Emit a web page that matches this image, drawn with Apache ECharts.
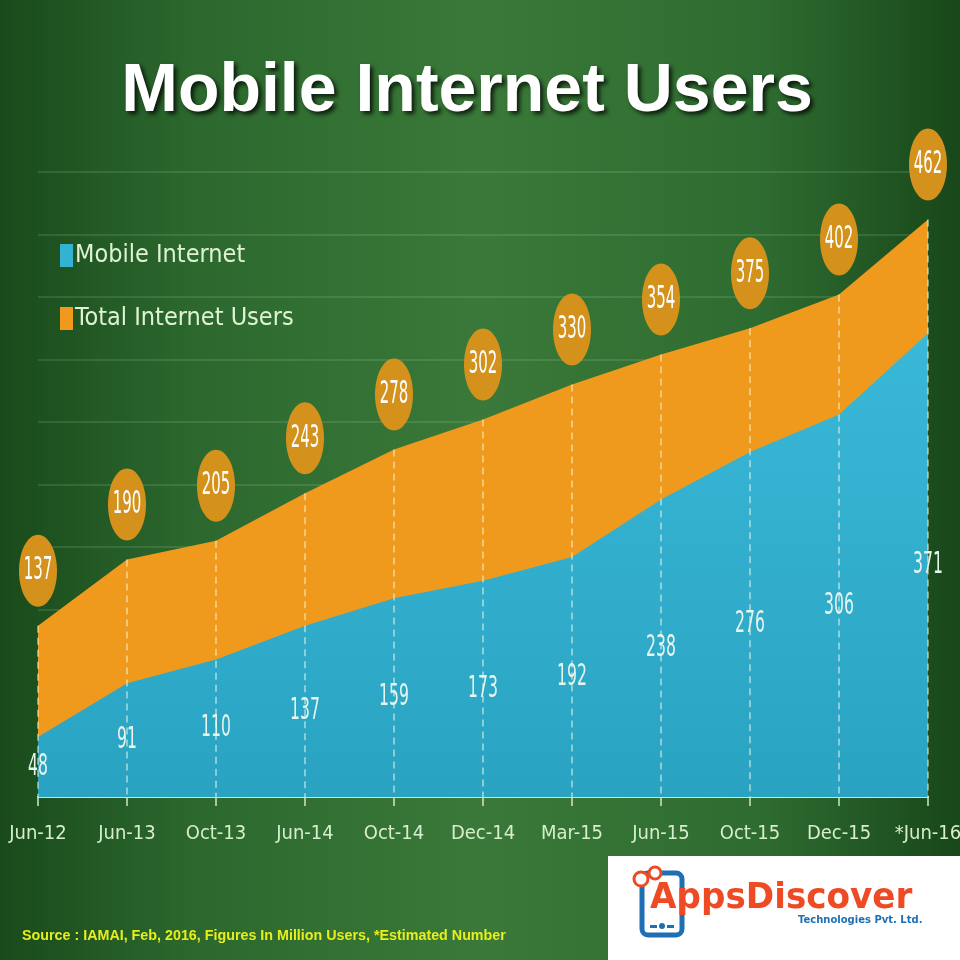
<!DOCTYPE html>
<html>
<head>
<meta charset="utf-8">
<script src="https://cdn.jsdelivr.net/npm/echarts@6/dist/echarts.min.js"></script>
<style>html,body{margin:0;padding:0;background:#2a642c;}#c{width:960px;height:960px;}</style>
</head>
<body>
<div id="c"></div>
<script>
const categories = ['Jun-12','Jun-13','Oct-13','Jun-14','Oct-14','Dec-14','Mar-15','Jun-15','Oct-15','Dec-15','*Jun-16'];
const totalUsers = [137,190,205,243,278,302,330,354,375,402,462];
const mobileUsers = [48,91,110,137,159,173,192,238,276,306,371];
const yTicks = {min:0, max:500, interval:50};

const CF = "'Liberation Sans Narrow','DejaVu Sans Condensed','Roboto Condensed',Roboto,sans-serif";
const chart = echarts.init(document.getElementById('c'));

chart.setOption({
  backgroundColor: {type:'linear', x:0, y:0, x2:1, y2:0, colorStops:[
    {offset:0, color:'#194a1b'},{offset:0.2, color:'#2c682e'},{offset:0.5, color:'#3a7939'},
    {offset:0.8, color:'#2e6b30'},{offset:1, color:'#184719'}]},
  animation:false,
  grid:{left:38, right:32, top:172, bottom:163, outerBoundsMode:'none', containLabel:false},
  legend:{
    orient:'vertical', left:55, top:238, icon:'rect', itemWidth:13, itemHeight:23, itemGap:38,
    itemStyle:{borderWidth:0},
    data:['Mobile Internet','Total Internet Users'],
    textStyle:{color:'#dff2d4', fontSize:25, fontFamily:CF, padding:[0,0,0,-3]}
  },
  xAxis:{
    type:'category', data:categories, boundaryGap:false,
    axisLine:{lineStyle:{color:'#cfe6c6', width:2}},
    axisTick:{show:true, length:9, lineStyle:{color:'#cfe6c6', width:1.5}},
    axisLabel:{color:'#d7eecd', fontSize:20, margin:27, fontFamily:CF, interval:0},
    splitLine:{show:false}
  },
  yAxis:{
    type:'value', min:yTicks.min, max:yTicks.max, interval:yTicks.interval,
    axisLabel:{show:false}, axisLine:{show:false}, axisTick:{show:false},
    splitLine:{lineStyle:{color:'rgba(220,255,210,0.16)', width:1.5}}
  },
  series:[
    {name:'Total Internet Users', type:'line', data:totalUsers, showSymbol:false, z:2,
     itemStyle:{color:'#ef9a1c'}, lineStyle:{width:0},
     areaStyle:{opacity:1, color:'#ef9a1c'}},
    {name:'Mobile Internet', type:'line', data:mobileUsers, showSymbol:false, z:3,
     itemStyle:{color:'#34b2d2'}, lineStyle:{width:0},
     areaStyle:{opacity:1, color:{type:'linear',x:0,y:0,x2:0,y2:1,colorStops:[{offset:0,color:'#3ab8d8'},{offset:1,color:'#2aa3c2'}]}}},
    {type:'custom', z:4, silent:true,
     data: totalUsers.map((v,i)=>[i,v]),
     renderItem:(params, api)=>{
       const t = api.coord([api.value(0), api.value(1)]);
       const b = api.coord([api.value(0), 0]);
       return {type:'line', shape:{x1:t[0], y1:t[1], x2:b[0], y2:b[1]},
         style:{stroke:'rgba(255,255,235,0.6)', lineWidth:1.5, lineDash:[7,5]}};
     }},
    {type:'custom', z:5, silent:true,
     data: mobileUsers.map((v,i)=>[i,v]),
     renderItem:(params, api)=>{
       const t = api.coord([api.value(0), api.value(1)]);
       const b = api.coord([api.value(0), 0]);
       return {type:'text', x:t[0], y:(t[1]+b[1])/2, scaleX:0.58,
         style:{text:String(api.value(1)), fill:'#e6f5ee', font:'30px '+CF, textAlign:'center', textVerticalAlign:'middle'}};
     }},
    {type:'custom', z:6, silent:true,
     data: totalUsers.map((v,i)=>[i,v]),
     renderItem:(params, api)=>{
       const t = api.coord([api.value(0), api.value(1)]);
       const cy = t[1]-55;
       return {type:'group', children:[
         {type:'ellipse', shape:{cx:t[0], cy:cy, rx:19, ry:36}, style:{fill:'#d4921d'}},
         {type:'text', x:t[0], y:cy, scaleX:0.52, style:{text:String(api.value(1)), fill:'#ffffff', font:'32px '+CF, textAlign:'center', textVerticalAlign:'middle'}}
       ]};
     }}
  ],
  graphic:[
    {type:'text', x:467, y:58, z:10, style:{text:'Mobile Internet Users', fill:'#ffffff', textAlign:'center',
      font:"bold 68px 'Liberation Sans',Arial,sans-serif", textShadowColor:'rgba(0,0,0,0.75)', textShadowBlur:4, textShadowOffsetX:3, textShadowOffsetY:3}},
    {type:'text', x:22, y:929, z:10, style:{text:'Source : IAMAI, Feb, 2016, Figures In Million Users, *Estimated Number',
      fill:'#e6ee1c', font:"bold 14.3px 'Liberation Sans',Arial,sans-serif"}},
    {type:'rect', shape:{x:608, y:856, width:352, height:104}, style:{fill:'#ffffff'}, z:10},
    {type:'rect', shape:{x:642, y:873, width:40, height:62, r:6}, style:{fill:'#ffffff', stroke:'#1f6fb4', lineWidth:5}, z:11},
    {type:'rect', shape:{x:650, y:925, width:7, height:3}, style:{fill:'#1f6fb4'}, z:12},
    {type:'rect', shape:{x:667, y:925, width:7, height:3}, style:{fill:'#1f6fb4'}, z:12},
    {type:'circle', shape:{cx:662, cy:926, r:3}, style:{fill:'#1f6fb4'}, z:12},
    {type:'circle', shape:{cx:641, cy:879, r:7}, style:{fill:'#ffffff', stroke:'#ee4a24', lineWidth:3}, z:12},
    {type:'circle', shape:{cx:655, cy:873, r:6}, style:{fill:'#ffffff', stroke:'#ee4a24', lineWidth:3}, z:12},
    {type:'text', x:650, y:881, z:13, scaleX:0.95, style:{text:'AppsDiscover', fill:'#ee4a24', font:"bold 36px 'DejaVu Sans',sans-serif"}},
    {type:'text', x:798, y:915, z:13, style:{text:'Technologies Pvt. Ltd.', fill:'#1f6fb4', font:"bold 10px 'DejaVu Sans',sans-serif"}}
  ]
});
</script>
</body>
</html>
